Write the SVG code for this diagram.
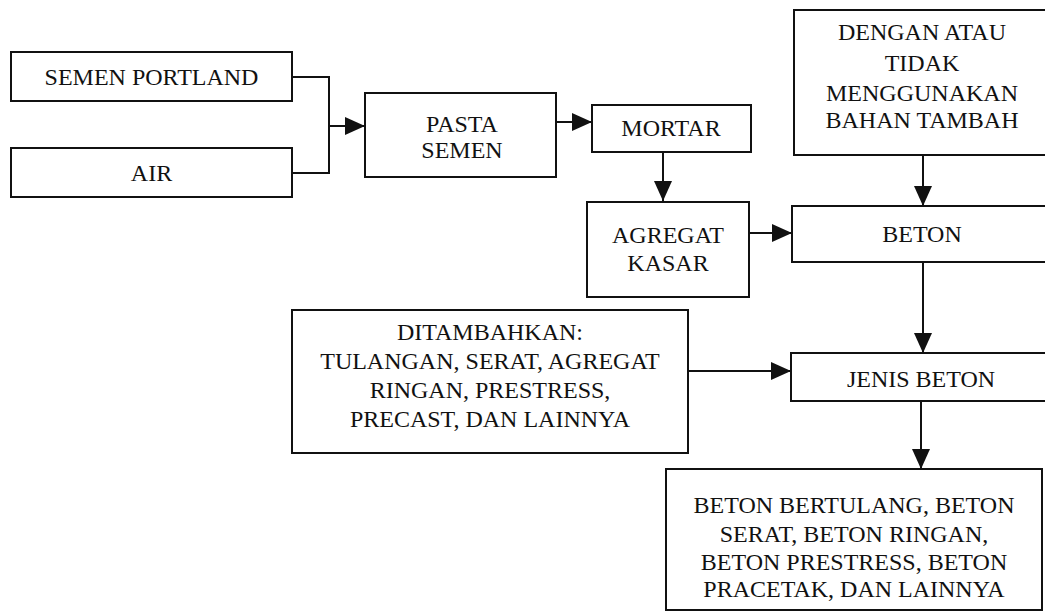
<svg xmlns="http://www.w3.org/2000/svg" width="1045" height="612" viewBox="0 0 1045 612">
<style>
rect{fill:#fff;stroke:#111;stroke-width:2}
text{font-family:"Liberation Serif","Times New Roman",serif;font-size:24px;fill:#111;text-anchor:middle}
.c{fill:none;stroke:#111;stroke-width:2}
</style>
<defs>
<marker id="ah" viewBox="0 0 20 18" refX="20" refY="9" markerWidth="20" markerHeight="18" markerUnits="userSpaceOnUse" orient="auto">
<path d="M0,0 L20,9 L0,18 z" fill="#111"/>
</marker>
</defs>
<rect x="0" y="0" width="1045" height="612" style="stroke:none"/>
<g id="connectors">
<path class="c" d="M292,77 H329 V173 H292"/>
<path class="c" d="M329,126 H365" marker-end="url(#ah)"/>
<path class="c" d="M556,122 H592" marker-end="url(#ah)"/>
<path class="c" d="M663,152 V201" marker-end="url(#ah)"/>
<path class="c" d="M923,155 V206" marker-end="url(#ah)"/>
<path class="c" d="M749,233 H792" marker-end="url(#ah)"/>
<path class="c" d="M923,262 V353" marker-end="url(#ah)"/>
<path class="c" d="M688,371 H791" marker-end="url(#ah)"/>
<path class="c" d="M921,401 V469" marker-end="url(#ah)"/>
</g>
<g id="semen-portland">
<rect x="11" y="52" width="281" height="49"/>
<text x="151.5" y="85">SEMEN PORTLAND</text>
</g>
<g id="air">
<rect x="11" y="148" width="281" height="49"/>
<text x="151.5" y="181">AIR</text>
</g>
<g id="pasta-semen">
<rect x="365" y="93" width="191" height="84"/>
<text x="462" y="132">PASTA</text>
<text x="462" y="158">SEMEN</text>
</g>
<g id="mortar">
<rect x="592" y="105" width="159" height="47"/>
<text x="671" y="136">MORTAR</text>
</g>
<g id="agregat-kasar">
<rect x="587" y="202" width="162" height="95"/>
<text x="668" y="243">AGREGAT</text>
<text x="668" y="271">KASAR</text>
</g>
<g id="bahan-tambah">
<rect x="794" y="10" width="260" height="145"/>
<text x="922" y="40">DENGAN ATAU</text>
<text x="922" y="71">TIDAK</text>
<text x="922" y="101">MENGGUNAKAN</text>
<text x="922" y="128">BAHAN TAMBAH</text>
</g>
<g id="beton">
<rect x="792" y="206" width="262" height="56"/>
<text x="922" y="242">BETON</text>
</g>
<g id="ditambahkan">
<rect x="292" y="310" width="396" height="143"/>
<text x="490" y="340">DITAMBAHKAN:</text>
<text x="490" y="369">TULANGAN, SERAT, AGREGAT</text>
<text x="490" y="398">RINGAN, PRESTRESS,</text>
<text x="490" y="427">PRECAST, DAN LAINNYA</text>
</g>
<g id="jenis-beton">
<rect x="791" y="353" width="263" height="48"/>
<text x="921" y="387">JENIS BETON</text>
</g>
<g id="hasil">
<rect x="666" y="469" width="376" height="141"/>
<text x="854" y="513">BETON BERTULANG, BETON</text>
<text x="854" y="542">SERAT, BETON RINGAN,</text>
<text x="854" y="570">BETON PRESTRESS, BETON</text>
<text x="854" y="597">PRACETAK, DAN LAINNYA</text>
</g>
</svg>
